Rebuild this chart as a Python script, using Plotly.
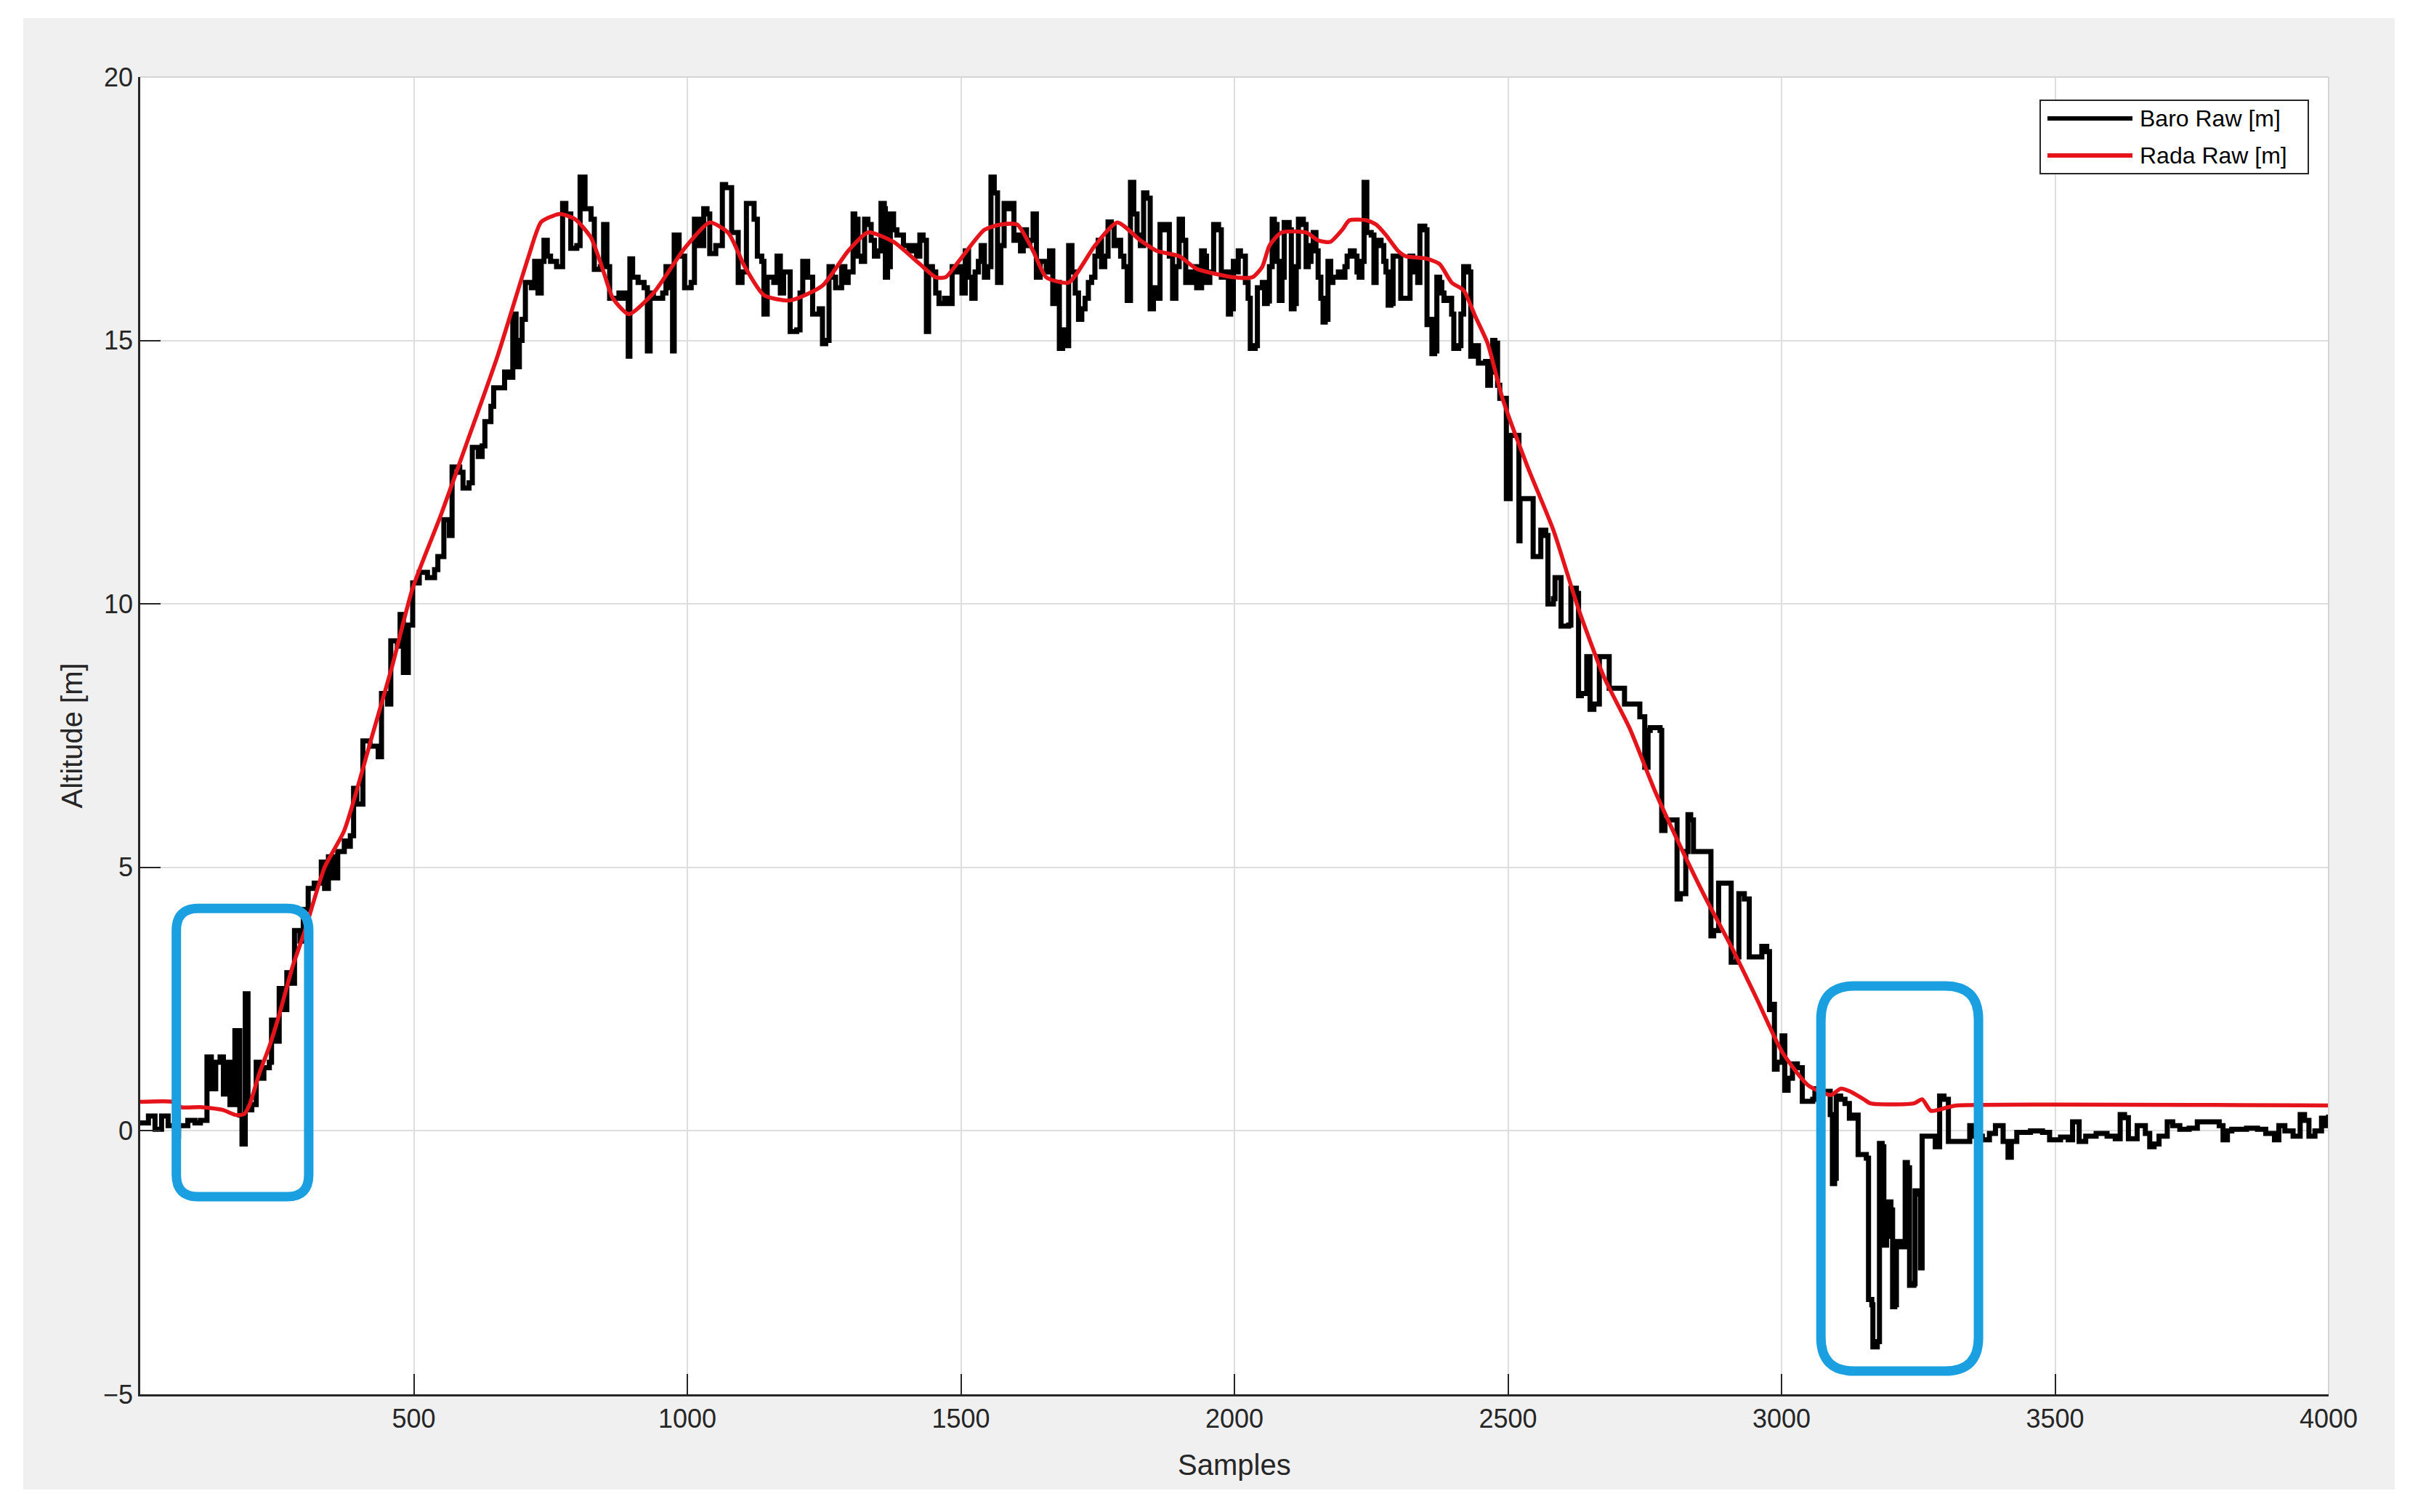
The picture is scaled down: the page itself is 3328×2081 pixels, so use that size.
import plotly.graph_objects as go

# ---------------- data ----------------
baro_samples = [
    0, 15, 27, 39, 51, 63, 70, 87, 100, 110, 122, 130, 138, 146, 152, 158, 164, 173, 182, 186,
    192, 197, 204, 212, 218, 226, 236, 240, 246, 254, 262, 268, 276, 282, 292, 298, 307, 318, 331, 337,
    344, 352, 361, 373, 378, 384, 390, 396, 407, 420, 435, 441, 452, 458, 470, 475, 481, 490, 498, 510,
    525, 538, 544, 555, 565, 570, 584, 590, 601, 607, 618, 625, 630, 641, 646, 660, 666, 675, 681, 687,
    693, 698, 704, 715, 721, 727, 733, 738, 744, 750, 761, 772, 778, 787, 798, 804, 813, 824, 830, 841,
    847, 853, 858, 875, 881, 887, 892, 895, 900, 910, 921, 927, 932, 938, 955, 961, 967, 973, 976, 985,
    995, 1007, 1013, 1022, 1030, 1036, 1041, 1052, 1064, 1070, 1078, 1081, 1093, 1100, 1108, 1117, 1122, 1128, 1136, 1140,
    1146, 1158, 1164, 1170, 1176, 1182, 1188, 1200, 1206, 1211, 1220, 1229, 1241, 1247, 1253, 1259, 1265, 1271, 1282, 1288,
    1294, 1303, 1306, 1312, 1318, 1324, 1330, 1336, 1342, 1348, 1354, 1360, 1362, 1366, 1371, 1377, 1383, 1395, 1405, 1413,
    1419, 1425, 1431, 1437, 1441, 1448, 1454, 1460, 1470, 1478, 1484, 1490, 1496, 1502, 1508, 1514, 1520, 1526, 1532, 1537,
    1543, 1549, 1555, 1561, 1567, 1573, 1579, 1585, 1591, 1597, 1603, 1609, 1614, 1620, 1626, 1632, 1638, 1645, 1656, 1662,
    1668, 1674, 1680, 1686, 1692, 1697, 1703, 1709, 1715, 1721, 1727, 1733, 1739, 1745, 1751, 1757, 1763, 1769, 1775, 1780,
    1786, 1792, 1798, 1804, 1810, 1816, 1822, 1828, 1834, 1840, 1846, 1852, 1858, 1864, 1870, 1875, 1881, 1887, 1893, 1899,
    1905, 1911, 1917, 1923, 1929, 1931, 1940, 1945, 1949, 1955, 1962, 1971, 1976, 1982, 1989, 1993, 1998, 2003, 2007, 2011,
    2020, 2025, 2029, 2038, 2042, 2051, 2055, 2060, 2064, 2069, 2073, 2078, 2082, 2087, 2091, 2100, 2104, 2109, 2113, 2117,
    2126, 2131, 2135, 2140, 2144, 2149, 2153, 2158, 2162, 2166, 2171, 2176, 2180, 2190, 2197, 2202, 2206, 2212, 2219, 2224,
    2228, 2233, 2237, 2242, 2250, 2255, 2259, 2268, 2273, 2277, 2281, 2286, 2290, 2299, 2304, 2317, 2321, 2326, 2330, 2335,
    2339, 2348, 2352, 2357, 2361, 2366, 2370, 2375, 2379, 2383, 2392, 2397, 2401, 2410, 2414, 2419, 2428, 2432, 2438, 2446,
    2459, 2463, 2468, 2472, 2476, 2481, 2485, 2494, 2497, 2504, 2518, 2520, 2522, 2536, 2546, 2555, 2560, 2569, 2573, 2583,
    2586, 2597, 2611, 2615, 2625, 2629, 2634, 2644, 2650, 2657, 2667, 2676, 2685, 2704, 2713, 2727, 2741, 2750, 2756, 2760,
    2778, 2781, 2787, 2806, 2809, 2815, 2825, 2829, 2834, 2839, 2862, 2871, 2876, 2885, 2899, 2908, 2918, 2922, 2932, 2941,
    2955, 2964, 2973, 2978, 2983, 2987, 2992, 3001, 3006, 3012, 3020, 3029, 3038, 3057, 3061, 3069, 3089, 3093, 3097, 3100,
    3108, 3116, 3124, 3132, 3140, 3155, 3159, 3165, 3167, 3175, 3179, 3184, 3187, 3192, 3195, 3200, 3203, 3207, 3210, 3218,
    3226, 3230, 3234, 3242, 3244, 3250, 3254, 3257, 3273, 3281, 3289, 3297, 3305, 3336, 3344, 3352, 3367, 3380, 3391, 3405,
    3414, 3420, 3430, 3455, 3477, 3490, 3510, 3524, 3532, 3544, 3556, 3575, 3595, 3610, 3619, 3627, 3634, 3650, 3665, 3673,
    3681, 3690, 3705, 3715, 3728, 3745, 3760, 3791, 3800, 3807, 3815, 3823, 3850, 3870, 3885, 3901, 3909, 3920, 3935, 3948,
    3956, 3964, 3975, 3987, 3993, 4000,
]
baro_alt = [
    0.15, 0.28, 0.03, 0.28, 0.1, -0.1, 0.1, 0.2, 0.15, 0.2, 1.4, 0.8, 1.3, 1.4, 0.7, 1.3, 0.5, 1.9, 0.3, -0.25,
    2.6, 0.4, 0.5, 1.3, 1.0, 1.2, 1.3, 2.1, 1.7, 2.7, 2.3, 3.0, 2.8, 3.8, 3.6, 4.2, 4.6, 4.7, 5.1, 4.6,
    5.2, 4.8, 5.3, 5.5, 5.4, 5.6, 6.5, 6.2, 7.4, 7.3, 7.1, 8.3, 8.1, 9.3, 9.2, 9.8, 8.7, 9.6, 10.4, 10.6,
    10.5, 10.65, 10.9, 11.6, 11.3, 12.6, 12.5, 12.2, 12.3, 12.97, 12.8, 13.0, 13.46, 13.75, 14.1, 14.1, 14.4, 14.3, 15.5, 14.5,
    15.0, 15.4, 16.1, 16.0, 16.5, 15.9, 16.5, 16.9, 16.6, 16.5, 16.4, 17.6, 17.4, 16.75, 16.8, 18.1, 17.5, 17.3, 16.35, 16.4,
    17.2, 16.4, 15.8, 15.9, 15.8, 15.9, 14.7, 16.55, 16.2, 16.1, 16.0, 14.8, 15.9, 15.8, 15.9, 16.4, 16.0, 14.8, 17.0, 16.6,
    16.0, 16.1, 17.3, 16.8, 17.5, 17.4, 16.65, 16.8, 17.96, 17.9, 17.9, 17.05, 16.1, 16.3, 17.6, 17.6, 17.3, 16.6, 16.5, 15.5,
    16.2, 16.1, 16.6, 15.9, 16.3, 16.3, 15.17, 15.2, 15.9, 16.5, 16.2, 15.5, 15.6, 14.94, 15.0, 16.4, 16.2, 16.0, 16.4, 16.1,
    16.3, 17.4, 17.3, 16.6, 16.5, 17.3, 17.2, 16.9, 16.6, 16.7, 17.6, 17.5, 16.2, 16.4, 17.4, 17.1, 17.0, 16.8, 16.7, 16.8,
    16.6, 17.0, 16.9, 15.17, 16.4, 16.3, 15.9, 15.7, 15.8, 15.7, 16.4, 16.3, 16.4, 15.9, 16.7, 16.2, 15.8, 16.3, 16.5, 16.8,
    16.2, 16.4, 18.1, 17.8, 16.1, 16.8, 17.6, 17.5, 17.6, 16.9, 17.0, 16.7, 17.1, 16.8, 16.9, 17.4, 16.2, 16.5, 16.3, 16.7,
    15.7, 16.1, 14.85, 15.2, 14.9, 16.8, 16.3, 15.9, 15.4, 15.6, 15.8, 16.1, 16.2, 16.6, 16.9, 16.4, 16.6, 17.25, 17.2, 16.8,
    16.9, 16.6, 16.4, 15.76, 18.0, 17.4, 17.0, 16.8, 17.8, 17.7, 15.6, 16.0, 15.8, 17.2, 17.1, 17.2, 16.6, 15.8, 16.4, 17.3,
    16.9, 16.1, 16.3, 16.1, 16.4, 16.0, 16.7, 16.6, 16.1, 16.3, 17.2, 17.1, 16.2, 16.3, 15.5, 15.6, 16.5, 16.3, 16.7, 16.6,
    16.1, 15.8, 14.85, 14.9, 16.0, 16.1, 15.7, 15.75, 16.4, 17.3, 17.2, 16.5, 15.76, 16.2, 17.24, 17.1, 15.6, 15.7, 16.4, 17.3,
    17.2, 16.4, 16.5, 16.8, 17.05, 16.7, 16.2, 15.8, 15.35, 15.4, 16.5, 16.1, 16.2, 16.3, 16.2, 16.4, 16.6, 16.7, 16.6, 16.3,
    16.2, 16.5, 18.0, 17.05, 17.0, 16.1, 16.9, 16.8, 16.5, 16.3, 15.67, 15.7, 16.6, 16.6, 15.8, 15.8, 16.6, 16.5, 16.3, 16.1,
    17.17, 17.1, 15.3, 15.4, 14.75, 14.8, 16.2, 16.1, 15.9, 15.76, 15.8, 15.5, 14.85, 14.9, 15.5, 16.4, 16.3, 14.7, 14.9, 14.57,
    14.6, 14.15, 14.4, 15.0, 14.95, 14.15, 13.9, 13.9, 12.0, 13.2, 13.2, 11.2, 12.0, 12.0, 10.9, 10.9, 11.4, 11.3, 10.0, 10.1,
    10.5, 9.58, 9.6, 10.3, 10.2, 8.26, 8.3, 9.0, 8.0, 8.1, 9.0, 9.0, 8.4, 8.4, 8.1, 8.1, 7.86, 6.9, 7.6, 7.65,
    7.6, 5.7, 5.9, 5.9, 4.4, 4.5, 5.3, 6.0, 5.9, 5.3, 5.3, 3.7, 3.8, 4.7, 4.7, 3.2, 3.3, 4.5, 4.4, 3.3,
    3.3, 3.5, 3.4, 2.3, 2.4, 1.17, 1.3, 1.8, 0.77, 1.0, 1.27, 1.2, 0.56, 0.6, 0.8, 0.75, 0.31, -1.0, -0.9, 0.66,
    0.6, 0.52, 0.24, 0.3, -0.45, -0.52, -3.2, -3.3, -4.1, -4.0, -0.24, -0.3, -2.17, -2.0, -1.35, -1.5, -3.34, -3.3, -2.1, -2.2,
    -0.6, -0.7, -2.93, -2.9, -1.14, -1.2, -2.6, -0.1, -0.1, -0.3, 0.66, 0.6, -0.2, -0.2, 0.1, -0.1, -0.17, -0.05, 0.1, -0.2,
    -0.5, -0.2, -0.03, 0.0, -0.03, -0.17, -0.12, -0.17, 0.17, -0.2, -0.1, -0.05, -0.1, -0.15, 0.31, 0.25, -0.15, 0.1, -0.05, -0.3,
    -0.25, -0.1, 0.17, 0.1, 0.03, 0.05, 0.17, 0.17, 0.1, -0.17, 0.0, 0.03, 0.05, 0.03, -0.05, -0.17, 0.1, 0.0, -0.1, 0.31,
    0.2, -0.1, 0.0, 0.24, 0.1, 0.31,
]

rada_samples = [
    0, 60, 75, 110, 150, 175, 190, 200, 218, 236, 254, 278, 301, 337, 373, 424, 460, 498, 550, 595,
    653, 710, 733, 767, 795, 824, 847, 864, 893, 938, 995, 1041, 1075, 1105, 1140, 1188, 1247, 1294, 1330, 1377,
    1425, 1454, 1472, 1496, 1543, 1573, 1603, 1632, 1656, 1697, 1745, 1786, 1828, 1858, 1899, 1931, 1998, 2033, 2051, 2064,
    2086, 2131, 2153, 2175, 2197, 2210, 2242, 2259, 2277, 2299, 2313, 2352, 2375, 2397, 2419, 2441, 2463, 2490, 2536, 2583,
    2629, 2676, 2722, 2769, 2815, 2862, 2908, 2955, 3001, 3048, 3090, 3108, 3125, 3150, 3163, 3242, 3257, 3273, 3305, 3320,
    4000,
]
rada_alt = [
    0.55, 0.55, 0.45, 0.45, 0.4, 0.3, 0.32, 0.5, 1.1, 1.6, 2.2, 3.1, 3.8, 5.0, 5.7, 7.5, 8.8, 10.3, 11.7, 13.0,
    14.7, 16.6, 17.25, 17.4, 17.3, 16.95, 16.3, 15.8, 15.5, 15.9, 16.75, 17.24, 17.04, 16.4, 15.86, 15.76, 16.04, 16.7, 17.05, 16.87,
    16.45, 16.2, 16.2, 16.5, 17.1, 17.2, 17.2, 16.7, 16.2, 16.1, 16.8, 17.24, 16.9, 16.7, 16.6, 16.36, 16.2, 16.2, 16.4, 16.8,
    17.05, 17.05, 16.9, 16.87, 17.1, 17.28, 17.28, 17.2, 17.0, 16.7, 16.6, 16.55, 16.45, 16.1, 15.95, 15.44, 14.94, 13.9, 12.6, 11.4,
    9.9, 8.6, 7.65, 6.44, 5.4, 4.4, 3.5, 2.5, 1.5, 0.87, 0.68, 0.8, 0.75, 0.6, 0.52, 0.52, 0.6, 0.38, 0.45, 0.48,
    0.48,
]

x_ticks = [500, 1000, 1500, 2000, 2500, 3000, 3500, 4000]
y_ticks = [-5, 0, 5, 10, 15, 20]
y_tick_text = ["\u22125", "0", "5", "10", "15", "20"]
series_names = ["Baro Raw [m]", "Rada Raw [m]"]

# highlight boxes (sample range, altitude range)
box_left = [66, 308, -1.25, 4.22]
box_right = [3072, 3360, -4.56, 2.75]

# ---------------- layout constants (pixels, page offset of 8 px removed) ----------------
OFF = 8
W, H = 3328 - OFF, 2081 - OFF
L, R, T, B = 193 - OFF, 3205 - OFF, 106 - OFF, 1919 - OFF   # plot area edges
PW, PH = R - L, B - T
FONT = "Liberation Sans, Arial, Helvetica, sans-serif"
AX = "#262626"
GRID = "#dedede"
BLUE = "#1a9fe0"
RED = "#e5141b"

def px(xp):
    return (xp - OFF - L) / PW

def py(yp):
    return (B - (yp - OFF)) / PH

def rounded_box(x0, x1, y0, y1, rpx):
    rx = rpx * 4000 / PW
    ry = rpx * 25 / PH
    return (f"M {x0+rx},{y0} L {x1-rx},{y0} Q {x1},{y0} {x1},{y0+ry} "
            f"L {x1},{y1-ry} Q {x1},{y1} {x1-rx},{y1} L {x0+rx},{y1} "
            f"Q {x0},{y1} {x0},{y1-ry} L {x0},{y0+ry} Q {x0},{y0} {x0+rx},{y0} Z")

fig = go.Figure()
fig.add_trace(go.Scatter(x=baro_samples, y=baro_alt, mode="lines", name=series_names[0],
                         line=dict(color="#000000", width=7, shape="hv")))
fig.add_trace(go.Scatter(x=rada_samples, y=rada_alt, mode="lines", name=series_names[1],
                         line=dict(color=RED, width=5.5, shape="spline", smoothing=0.6)))

shapes = [
    # grey figure background and white axes area
    dict(type="rect", xref="paper", yref="paper", x0=px(32), x1=px(3296), y0=py(2050), y1=py(25),
         fillcolor="#f0f0f0", line=dict(width=0), layer="below"),
    dict(type="rect", xref="paper", yref="paper", x0=0, x1=1, y0=0, y1=1,
         fillcolor="#ffffff", line=dict(width=0), layer="below"),
    # light top / right borders
    dict(type="line", xref="paper", yref="paper", x0=0, x1=1, y0=1, y1=1,
         line=dict(color="#d4d4d4", width=2)),
    dict(type="line", xref="paper", yref="paper", x0=1, x1=1, y0=0, y1=1,
         line=dict(color="#d4d4d4", width=2)),
    # highlight boxes
    dict(type="path", xref="x", yref="y", path=rounded_box(*box_left, 30),
         line=dict(color=BLUE, width=13), layer="above"),
    dict(type="path", xref="x", yref="y", path=rounded_box(*box_right, 46),
         line=dict(color=BLUE, width=13), layer="above"),
    # legend frame and samples
    dict(type="rect", xref="paper", yref="paper", x0=px(2808), x1=px(3177), y0=py(239), y1=py(138),
         fillcolor="#ffffff", line=dict(color="#262626", width=2), layer="above"),
    dict(type="line", xref="paper", yref="paper", x0=px(2818), x1=px(2935), y0=py(163), y1=py(163),
         line=dict(color="#000000", width=6)),
    dict(type="line", xref="paper", yref="paper", x0=px(2818), x1=px(2935), y0=py(214), y1=py(214),
         line=dict(color=RED, width=6)),
]

annotations = [
    dict(xref="paper", yref="paper", x=px(2943), y=py(163), text=series_names[0], showarrow=False,
         xanchor="left", yanchor="middle", font=dict(family=FONT, size=32, color="#000000")),
    dict(xref="paper", yref="paper", x=px(2943), y=py(214), text=series_names[1], showarrow=False,
         xanchor="left", yanchor="middle", font=dict(family=FONT, size=32, color="#000000")),
    dict(xref="paper", yref="paper", x=0.5, y=py(2016), text="Samples", showarrow=False,
         xanchor="center", yanchor="middle", font=dict(family=FONT, size=40, color=AX)),
    dict(xref="paper", yref="paper", x=px(98), y=0.5, text="Altitude [m]", showarrow=False, textangle=-90,
         xanchor="center", yanchor="middle", font=dict(family=FONT, size=40, color=AX)),
]

fig.update_layout(
    width=W, height=H,
    margin=dict(l=L, r=W - R, t=T, b=H - B, pad=0),
    paper_bgcolor="#ffffff",
    plot_bgcolor="rgba(0,0,0,0)",
    showlegend=False,
    font=dict(family=FONT, size=36, color=AX),
    shapes=shapes,
    annotations=annotations,
    xaxis=dict(range=[0, 4000], tickmode="array", tickvals=x_ticks, ticks="inside", ticklen=28,
               tickwidth=2, tickcolor=AX, showline=True, linecolor=AX, linewidth=2.5,
               showgrid=True, gridcolor=GRID, gridwidth=2, zeroline=False,
               tickfont=dict(family=FONT, size=36, color=AX)),
    yaxis=dict(range=[-5, 20], tickmode="array", tickvals=y_ticks, ticktext=y_tick_text,
               ticks="inside", ticklen=28, tickwidth=2, tickcolor=AX, showline=True, linecolor=AX,
               linewidth=2.5, showgrid=True, gridcolor=GRID, gridwidth=2, zeroline=False,
               tickfont=dict(family=FONT, size=36, color=AX)),
)

fig.write_html("out.html")
